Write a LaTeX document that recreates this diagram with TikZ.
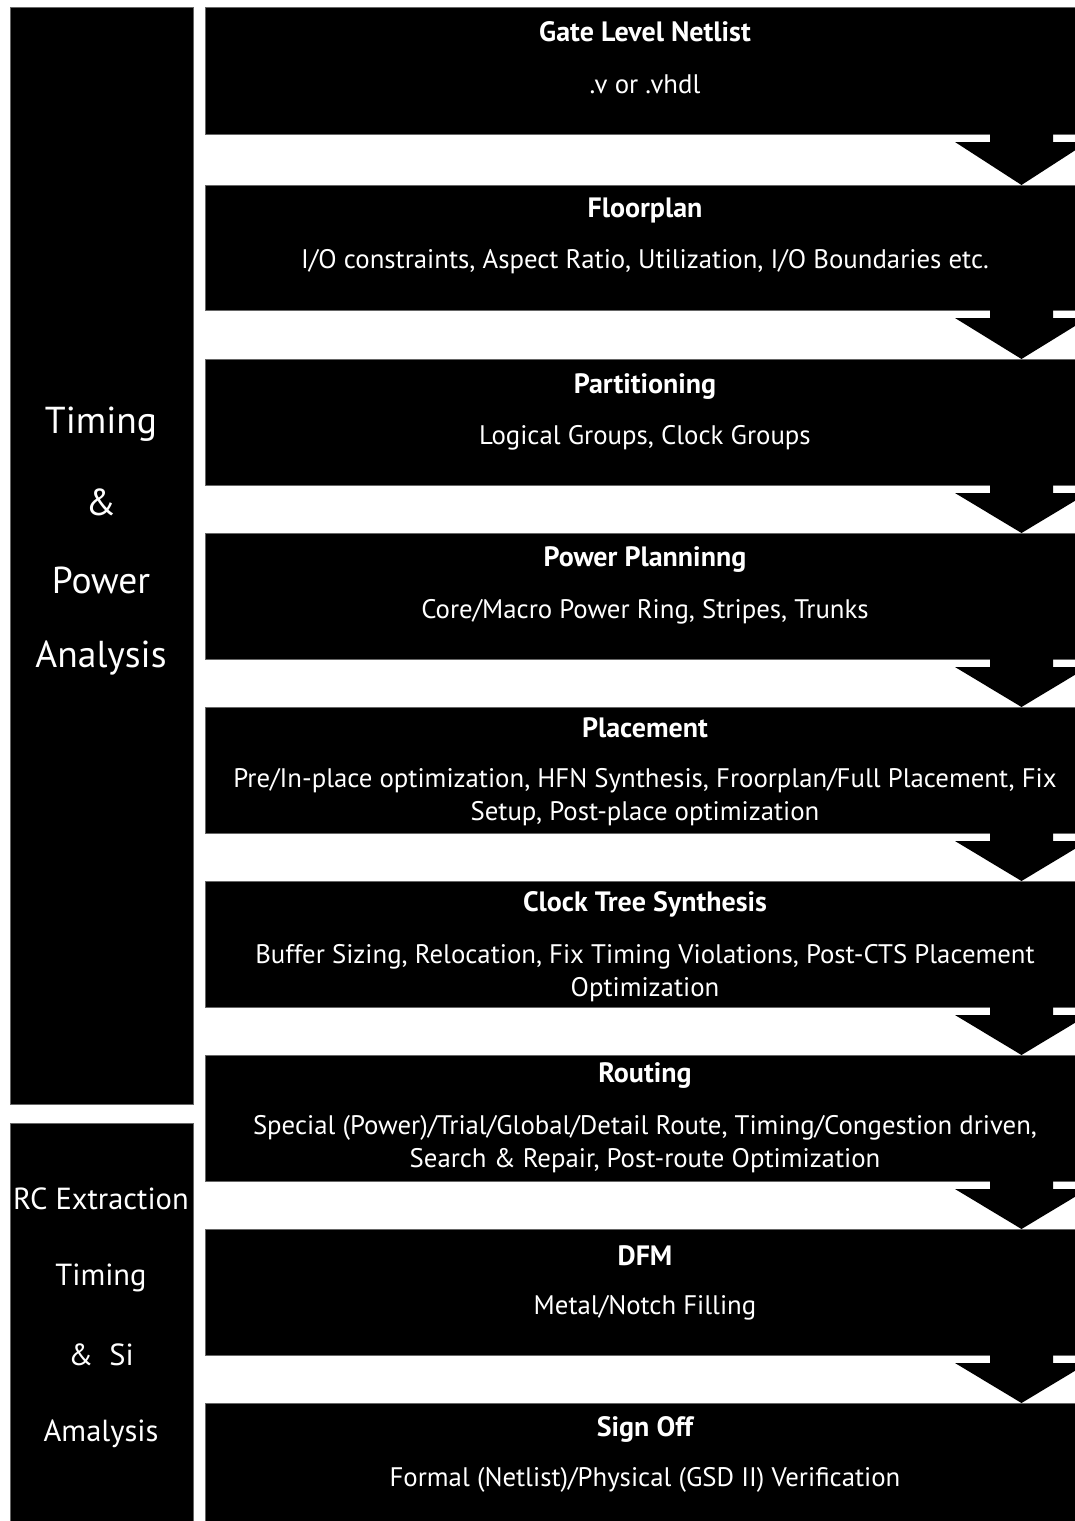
\documentclass[tikz,border=0pt]{standalone}
\usepackage{fontspec}
\setmainfont{PT Sans}
\usetikzlibrary{calc}
\begin{document}
\begin{tikzpicture}[x=1pt,y=-1pt,
  blk/.style={fill=black,draw=black!60,line width=0.6pt},
  ttl/.style={text=white,font=\fontsize{28}{32}\selectfont\bfseries,anchor=center,inner sep=0pt,yshift=-2pt},
  sub/.style={text=white,font=\fontsize{26.8}{33}\selectfont,anchor=center,inner sep=0pt,align=center,yshift=-2pt},
  side/.style={text=white,font=\fontsize{37.5}{42}\selectfont,anchor=center,inner sep=0pt,yshift=-2pt},
  sidesm/.style={text=white,font=\fontsize{30.5}{34}\selectfont,anchor=center,inner sep=0pt,yshift=-2pt}]
\useasboundingbox (0,0) rectangle (1075,1521);
\clip (0,0) rectangle (1075,1521);
% left panels
\path[blk] (10,7) rectangle (193,1104);
\path[blk] (10,1123) rectangle (193,1530);
\node[side] (t1) at (101,422) {Timing};
\node[side] (t2) at (101,500) {\&};
\node[side] (t3) at (101,578) {Power};
\node[side] (t4) at (101,656) {Analysis};
\node[sidesm] (r1) at (101,1197) {RC Extraction};
\node[sidesm] (r2) at (101,1276) {Timing};
\node[sidesm] (r3) at (101,1353) {\&\ \ Si};
\node[sidesm] (r4) at (101,1432) {Amalysis};
% main boxes
\foreach \i/\t/\b in {1/7/134,2/185/310,3/359/485,4/533/659,5/707/833,6/881/1007,7/1055/1181,8/1229/1355,9/1403/1530}{
  \path[blk] (205,\t) rectangle (1085,\b);
  \coordinate (b\i n) at (1021.5,\t);
  \coordinate (b\i s) at (1021.5,\b);
}
\node[ttl] (h1) at (645,30) {Gate Level Netlist};
\node[sub] (s1) at (645,82) {.v or .vhdl};
\node[ttl] (h2) at (645,208) {Floorplan};
\node[sub] (s2) at (645,260) {I/O constraints, Aspect Ratio, Utilization, I/O Boundaries etc.};
\node[ttl] (h3) at (645,385) {Partitioning};
\node[sub] (s3) at (645,436) {Logical Groups, Clock Groups};
\node[ttl] (h4) at (645,558) {Power Planninng};
\node[sub] (s4) at (645,610) {Core/Macro Power Ring, Stripes, Trunks};
\node[ttl] (h5) at (645,726) {Placement};
\node[sub] (s5) at (645,795) {Pre/In-place optimization, HFN Synthesis, Froorplan/Full Placement, Fix\\Setup, Post-place optimization};
\node[ttl] (h6) at (645,902) {Clock Tree Synthesis};
\node[sub] (s6) at (645,971) {Buffer Sizing, Relocation, Fix Timing Violations, Post-CTS Placement\\Optimization};
\node[ttl] (h7) at (645,1073) {Routing};
\node[sub] (s7) at (645,1142) {Special (Power)/Trial/Global/Detail Route, Timing/Congestion driven,\\Search \& Repair, Post-route Optimization};
\node[ttl] (h8) at (645,1254) {DFM};
\node[sub] (s8) at (645,1306) {Metal/Notch Filling};
\node[ttl] (h9) at (645,1427) {Sign Off};
\node[sub] (s9) at (645,1478) {Formal (Netlist)/Physical (GSD II) Verification};
% arrows
\foreach \i/\j in {1/2,2/3,3/4,4/5,5/6,6/7,7/8,8/9}{
  \fill[black] ($(b\i s)+(-31.5,0)$) -- ++(0,8) -- ++(-35,0) -- (b\j n)
    -- ($(b\i s)+(66.5,8)$) -- ++(-35,0) -- ++(0,-8) -- cycle;
}
\end{tikzpicture}
\end{document}
